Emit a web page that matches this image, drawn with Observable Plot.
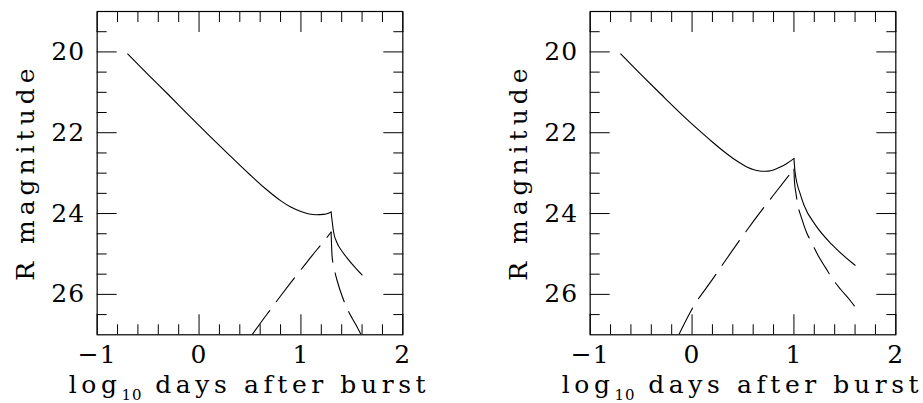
<!DOCTYPE html>
<html><head><meta charset="utf-8">
<script src="https://cdn.jsdelivr.net/npm/d3@7"></script>
<script src="https://cdn.jsdelivr.net/npm/@observablehq/plot@0.6"></script>
<style>
body{margin:0;background:#fff;}
#wrap{position:relative;width:923px;height:403px;overflow:hidden;background:#fff;}
.panel{position:absolute;top:0;}
g[aria-label="x-axis tick label"] text, g[aria-label="y-axis tick label"] text{letter-spacing:1px;}
g[aria-label="text"] text{letter-spacing:5px;}
</style></head><body><div id="wrap"></div>
<script>
// ---- axis ticks ----
const xTicksMajor = [-1, 0, 1, 2];
const xTicksMinor = [-0.8, -0.6, -0.4, -0.2, 0.2, 0.4, 0.6, 0.8, 1.2, 1.4, 1.6, 1.8];
const yTicksMajor = [20, 22, 24, 26];
const yTicksMinor = [19.5, 20.5, 21, 21.5, 22.5, 23, 23.5, 24.5, 25, 25.5, 26.5];
const xLabelMain = "log";
const xLabelSub = "10";
const xLabelRest = " days after burst";
const yLabel = "R magnitude";

// ---- left panel ----
const leftSolidEarlyX   = [-0.70, -0.50, -0.30, -0.10, 0.10, 0.30, 0.50, 0.65, 0.80, 0.90, 1.00, 1.08, 1.15, 1.22, 1.27, 1.296];
const leftSolidEarlyMag = [20.05, 20.56, 21.06, 21.57, 22.07, 22.56, 23.04, 23.38, 23.68, 23.84, 23.95, 24.01, 24.03, 24.02, 23.99, 23.96];
const leftSolidLateX    = [1.296, 1.305, 1.32, 1.355, 1.40, 1.45, 1.52, 1.60];
const leftSolidLateMag  = [23.96, 24.16, 24.45, 24.73, 24.92, 25.09, 25.30, 25.52];
const leftDashRiseX     = [0.52, 0.60, 0.70, 0.80, 0.90, 1.00, 1.10, 1.20, 1.296];
const leftDashRiseMag   = [27.0, 26.72, 26.38, 26.04, 25.71, 25.39, 25.07, 24.76, 24.46];
const leftDashFallX     = [1.296, 1.30, 1.306, 1.322, 1.36, 1.404, 1.45, 1.50, 1.55, 1.585];
const leftDashFallMag   = [24.46, 24.75, 25.06, 25.31, 25.70, 26.04, 26.33, 26.58, 26.80, 26.97];

// ---- right panel ----
const rightSolidEarlyX   = [-0.70, -0.50, -0.30, -0.10, 0.10, 0.20, 0.30, 0.40, 0.50, 0.55, 0.60, 0.65, 0.70, 0.75, 0.80, 0.865, 0.93, 1.00];
const rightSolidEarlyMag = [20.05, 20.56, 21.06, 21.55, 22.01, 22.23, 22.44, 22.63, 22.79, 22.86, 22.91, 22.94, 22.955, 22.95, 22.92, 22.85, 22.76, 22.64];
const rightSolidLateX    = [1.00, 1.01, 1.03, 1.06, 1.10, 1.21, 1.374, 1.60];
const rightSolidLateMag  = [22.64, 22.95, 23.25, 23.50, 23.80, 24.28, 24.77, 25.28];
const rightDashRiseX     = [-0.13, 0.0, 0.2, 0.4, 0.6, 0.8, 1.0];
const rightDashRiseMag   = [27.0, 26.36, 25.63, 24.90, 24.20, 23.54, 22.90];
const rightDashFallX     = [1.0, 1.005, 1.02, 1.035, 1.08, 1.126, 1.172, 1.24, 1.313, 1.369, 1.46, 1.558, 1.60];
const rightDashFallMag   = [22.90, 23.20, 23.50, 23.74, 24.15, 24.48, 24.71, 25.05, 25.35, 25.58, 25.88, 26.17, 26.31];

const FONT = "DejaVu Serif";
const rows = (xs, ms, seg) => xs.map((x, i) => ({x, mag: ms[i], seg}));

function panel(solid, dashed) {
  const W = 429.67;
  const ticks = (anchor, data, size, axis) =>
    axis(data, {anchor, tickSize: -size, fill: "none", label: null, stroke: "black", strokeWidth: 1});
  const svg = Plot.plot({
    width: W, height: 403,
    marginLeft: 96.67, marginRight: 27.34, marginTop: 11, marginBottom: 68.7,
    x: {domain: [-1, 2]},
    y: {domain: [19, 27], reverse: true},
    style: {fontFamily: FONT, background: "white", color: "black"},
    marks: [
      Plot.frame({stroke: "black", strokeWidth: 1.2}),
      ticks("bottom", xTicksMajor, 20, Plot.axisX),
      ticks("bottom", xTicksMinor, 10, Plot.axisX),
      ticks("top", xTicksMajor, 20, Plot.axisX),
      ticks("top", xTicksMinor, 10, Plot.axisX),
      ticks("left", yTicksMajor, 20, Plot.axisY),
      ticks("left", yTicksMinor, 10, Plot.axisY),
      ticks("right", yTicksMajor, 20, Plot.axisY),
      ticks("right", yTicksMinor, 10, Plot.axisY),
      Plot.axisX(xTicksMajor, {anchor: "bottom", tickSize: 0, tickPadding: 10, fontSize: 25, fontFamily: FONT, label: null, fill: "black"}),
      Plot.axisY(yTicksMajor, {anchor: "left", tickSize: 0, tickPadding: 12, fontSize: 25, fontFamily: FONT, label: null, fill: "black"}),
      Plot.text([yLabel], {frameAnchor: "left", textAnchor: "middle", rotate: -90, dx: -71, dy: -1, lineAnchor: "middle", fontSize: 25, fontFamily: FONT, fill: "black"}),
      Plot.line(solid, {x: "x", y: "mag", z: "seg", curve: "monotone-x", stroke: "black", strokeWidth: 1.1, clip: true}),
      Plot.line(dashed, {x: "x", y: "mag", z: "seg", curve: "monotone-x", stroke: "black", strokeWidth: 1.1, strokeDasharray: "30,11", clip: true})
    ]
  });
  const cx = (svg.scale("x").apply(-1) + svg.scale("x").apply(2)) / 2;
  const t = d3.select(svg).append("text")
    .attr("x", cx).attr("y", 393)
    .attr("text-anchor", "middle")
    .attr("font-family", FONT).attr("font-size", 25)
    .attr("letter-spacing", 4.6).attr("fill", "black");
  t.append("tspan").text(xLabelMain);
  t.append("tspan").attr("dy", 7).attr("font-size", 15).attr("letter-spacing", 1).text(xLabelSub);
  t.append("tspan").attr("dy", -7).text(xLabelRest);
  return svg;
}

const leftSolid = [...rows(leftSolidEarlyX, leftSolidEarlyMag, "a"), ...rows(leftSolidLateX, leftSolidLateMag, "b")];
const leftDashed = [...rows(leftDashRiseX, leftDashRiseMag, "a"), ...rows(leftDashFallX, leftDashFallMag, "b")];
const rightSolid = [...rows(rightSolidEarlyX, rightSolidEarlyMag, "a"), ...rows(rightSolidLateX, rightSolidLateMag, "b")];
const rightDashed = [...rows(rightDashRiseX, rightDashRiseMag, "a"), ...rows(rightDashFallX, rightDashFallMag, "b")];

const wrap = document.getElementById("wrap");
const p1 = document.createElement("div"); p1.className = "panel"; p1.style.left = "0px";
const p2 = document.createElement("div"); p2.className = "panel"; p2.style.left = "493.33px";
p1.appendChild(panel(leftSolid, leftDashed));
p2.appendChild(panel(rightSolid, rightDashed));
wrap.appendChild(p1); wrap.appendChild(p2);
</script></body></html>
